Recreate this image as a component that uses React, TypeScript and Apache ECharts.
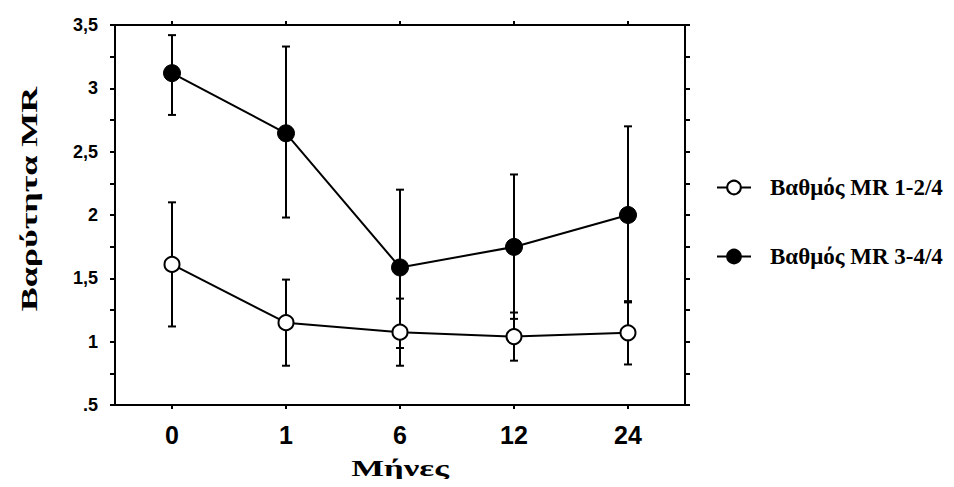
import React, { useEffect, useRef } from "react";
import * as echarts from "echarts";

const months = ["0", "1", "6", "12", "24"];
const yTickLabels: Record<string, string> = { "0.5": ".5", "1": "1", "1.5": "1,5", "2": "2", "2.5": "2,5", "3": "3", "3.5": "3,5" };
const xAxisTitle = "Μήνες";
const yAxisTitle = "Βαρύτητα MR";

const grade12Name = "Βαθμός MR 1-2/4";
const grade12Mean = [1.61, 1.15, 1.075, 1.04, 1.07];
const grade12Upper = [2.1, 1.49, 1.34, 1.23, 1.32];
const grade12Lower = [1.12, 0.81, 0.81, 0.85, 0.82];

const grade34Name = "Βαθμός MR 3-4/4";
const grade34Mean = [3.12, 2.645, 1.586, 1.748, 2.0];
const grade34Upper = [3.42, 3.33, 2.2, 2.32, 2.7];
const grade34Lower = [2.79, 1.98, 0.95, 1.18, 1.31];

function errorSeries(upper: number[], lower: number[]) {
  return {
    type: "custom",
    silent: true,
    z: 1,
    data: months.map((_, i) => [i, lower[i], upper[i]]),
    renderItem: (params: any, api: any) => {
      const x = api.value(0);
      const lo = api.coord([x, api.value(1)]);
      const hi = api.coord([x, api.value(2)]);
      const cw = 4;
      const style = { stroke: "#000", lineWidth: 2 };
      return {
        type: "group",
        children: [
          { type: "line", shape: { x1: hi[0], y1: hi[1], x2: lo[0], y2: lo[1] }, style },
          { type: "line", shape: { x1: hi[0] - cw, y1: hi[1], x2: hi[0] + cw, y2: hi[1] }, style },
          { type: "line", shape: { x1: lo[0] - cw, y1: lo[1], x2: lo[0] + cw, y2: lo[1] }, style },
        ],
      };
    },
  };
}

export default function App() {
  const ref = useRef<HTMLDivElement>(null);
  useEffect(() => {
    if (!ref.current) return;
    const chart = echarts.init(ref.current, null, { renderer: "svg" });
    const axisLine = { show: true, onZero: false, lineStyle: { color: "#000", width: 2 } };
    const tickLabelFont = { fontFamily: "Liberation Sans", fontWeight: "bold", color: "#000" };
    const titleFont = { fontFamily: "Liberation Serif", fontWeight: "bold", fill: "#000" };
    chart.setOption({
      animation: false,
      backgroundColor: "#fff",
      grid: { left: 115, right: 269, top: 25, bottom: 82 },
      legend: {
        orient: "vertical",
        left: 711,
        top: 171,
        itemGap: 46,
        itemWidth: 34,
        itemHeight: 17,
        data: [grade12Name, grade34Name],
        textStyle: {
          fontFamily: "Liberation Serif",
          fontWeight: "bold",
          fontSize: 23,
          color: "#000",
          padding: [0, 0, 0, 14],
        },
      },
      graphic: [
        {
          type: "text",
          x: 29,
          y: 199,
          rotation: Math.PI / 2,
          scaleX: 1.5,
          style: { ...titleFont, text: yAxisTitle, fontSize: 24, align: "center", verticalAlign: "middle" },
        },
        {
          type: "text",
          x: 400,
          y: 468,
          scaleX: 1.45,
          style: { ...titleFont, text: xAxisTitle, fontSize: 24, align: "center", verticalAlign: "middle" },
        },
      ],
      xAxis: [
        {
          type: "category",
          data: months,
          position: "bottom",
          axisLine,
          axisTick: { show: true, alignWithLabel: true, length: 4, lineStyle: { color: "#000", width: 2 } },
          axisLabel: { ...tickLabelFont, fontSize: 25, margin: 17 },
          splitLine: { show: false },
        },
        {
          type: "category",
          data: months,
          position: "top",
          axisLine,
          axisTick: { show: true, alignWithLabel: true, length: 4, lineStyle: { color: "#000", width: 2 } },
          axisLabel: { show: false },
          splitLine: { show: false },
        },
      ],
      yAxis: [
        {
          type: "value",
          min: 0.5,
          max: 3.5,
          interval: 0.25,
          position: "left",
          axisLine,
          axisTick: { show: true, length: 5, lineStyle: { color: "#000", width: 2 } },
          axisLabel: {
            ...tickLabelFont,
            fontSize: 18,
            margin: 17,
            formatter: (v: number) => yTickLabels[String(v)] ?? "",
          },
          splitLine: { show: false },
        },
        {
          type: "value",
          min: 0.5,
          max: 3.5,
          interval: 0.25,
          position: "right",
          axisLine,
          axisTick: { show: true, length: 5, lineStyle: { color: "#000", width: 2 } },
          axisLabel: { show: false },
          splitLine: { show: false },
        },
      ],
      series: [
        errorSeries(grade34Upper, grade34Lower),
        errorSeries(grade12Upper, grade12Lower),
        {
          name: grade12Name,
          type: "line",
          data: grade12Mean,
          z: 3,
          symbol: "circle",
          symbolSize: 15,
          lineStyle: { color: "#000", width: 2 },
          itemStyle: { color: "#fff", borderColor: "#000", borderWidth: 2 },
        },
        {
          name: grade34Name,
          type: "line",
          data: grade34Mean,
          z: 3,
          symbol: "circle",
          symbolSize: 17,
          lineStyle: { color: "#000", width: 2 },
          itemStyle: { color: "#000", borderColor: "#000", borderWidth: 1 },
        },
      ],
    });
    return () => chart.dispose();
  }, []);
  return <div ref={ref} style={{ width: 954, height: 487, margin: -8 }} />;
}
